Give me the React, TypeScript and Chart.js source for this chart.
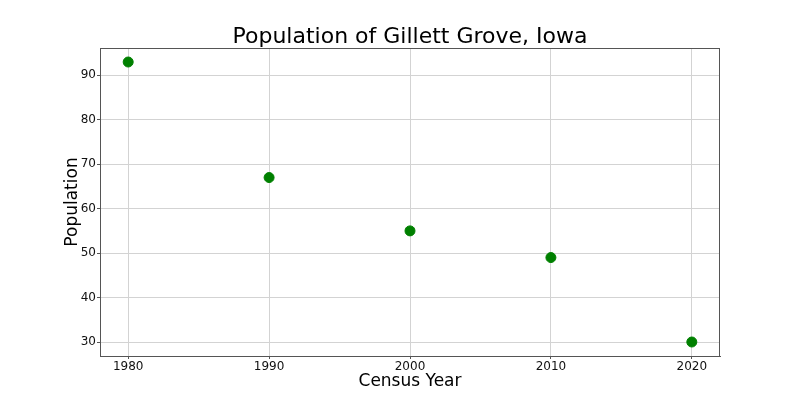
import React, { useEffect, useRef } from "react";
import { Chart, registerables } from "chart.js";

Chart.register(...registerables);

const years = [1980, 1990, 2000, 2010, 2020];
const population = [93, 67, 55, 49, 30];
const xTicks = [1980, 1990, 2000, 2010, 2020];
const yTicks = [30, 40, 50, 60, 70, 80, 90];
const titleText = "Population of Gillett Grove, Iowa";
const xTitle = "Census Year";
const yTitle = "Population";

const FONT = "'DejaVu Sans', sans-serif";

const decorPlugin = {
  id: "decor",
  afterDraw(chart: any) {
    const { ctx, chartArea } = chart;
    const { left, right, top, bottom } = chartArea;
    ctx.save();
    ctx.strokeStyle = "#555";
    ctx.lineWidth = 1;
    ctx.strokeRect(left + 0.5, top + 0.5, right - left - 1, bottom - top);
    ctx.fillStyle = "#000";
    ctx.textAlign = "center";
    ctx.textBaseline = "alphabetic";
    ctx.font = `22px ${FONT}`;
    ctx.fillText(titleText, (left + right) / 2, 43);
    ctx.font = `17px ${FONT}`;
    ctx.fillText(xTitle, (left + right) / 2, 386);
    ctx.translate(77, (top + bottom) / 2);
    ctx.rotate(-Math.PI / 2);
    ctx.fillText(yTitle, 0, 0);
    ctx.restore();
  },
};

export default function App() {
  const ref = useRef<HTMLCanvasElement>(null);
  useEffect(() => {
    if (!ref.current) return;
    const chart = new Chart(ref.current, {
      type: "scatter",
      data: {
        datasets: [
          {
            data: years.map((y, i) => ({ x: y, y: population[i] })),
            backgroundColor: "#008000",
            borderColor: "#008000",
            pointRadius: 5,
            pointHoverRadius: 5,
          },
        ],
      },
      options: {
        responsive: false,
        animation: false,
        layout: { padding: { top: 48, right: 80, left: 0, bottom: 0 } },
        plugins: { legend: { display: false }, tooltip: { enabled: false }, title: { display: false } },
        scales: {
          x: {
            type: "linear",
            min: 1978,
            max: 2022,
            afterBuildTicks: (s: any) => {
              s.ticks = xTicks.map((v) => ({ value: v }));
            },
            afterFit: (s: any) => {
              s.height = 44;
            },
            ticks: {
              callback: (v: any) => String(v),
              color: "#111",
              font: { family: FONT, size: 12 },
              padding: 1,
              maxRotation: 0,
            },
            grid: { color: "#d3d3d3", tickLength: 3, tickColor: "#555" },
            border: { color: "#555" },
          },
          y: {
            type: "linear",
            min: 26.85,
            max: 96.15,
            afterBuildTicks: (s: any) => {
              s.ticks = yTicks.map((v) => ({ value: v }));
            },
            afterFit: (s: any) => {
              s.width = 100;
            },
            ticks: {
              callback: (v: any) => String(v),
              color: "#111",
              font: { family: FONT, size: 12 },
              padding: 1,
            },
            grid: { color: "#d3d3d3", tickLength: 3, tickColor: "#555" },
            border: { color: "#555" },
          },
        },
      },
      plugins: [decorPlugin],
    });
    return () => chart.destroy();
  }, []);
  return (
    <div style={{ position: "fixed", left: 0, top: 0, width: 800, height: 400, background: "#fff" }}>
      <canvas ref={ref} width={800} height={400} />
    </div>
  );
}
